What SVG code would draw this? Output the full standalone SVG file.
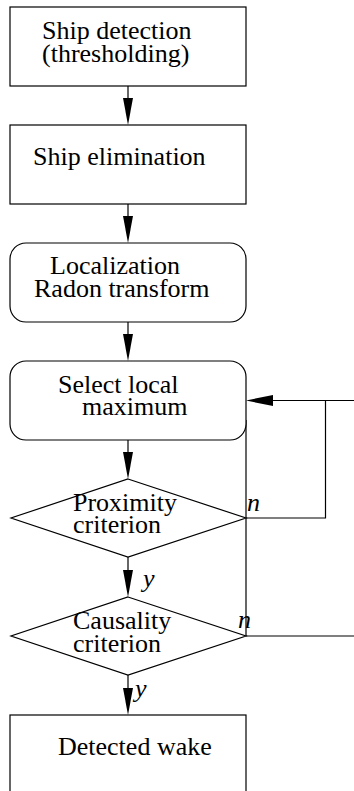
<svg xmlns="http://www.w3.org/2000/svg" width="354" height="791" viewBox="0 0 354 791">
<style>
.n{fill:#fff;stroke:#000;stroke-width:1.2}
.t{font-family:'Liberation Serif','DejaVu Serif',serif;font-size:26px;fill:#000}
.i{font-family:'Liberation Serif','DejaVu Serif',serif;font-size:26px;font-style:italic;fill:#000}
.c{fill:none;stroke:#000;stroke-width:1.2}
.h{fill:#000;stroke:none}
</style>
<rect width="354" height="791" fill="#fff"/>
<g id="connectors">
<line class="c" x1="128" y1="86" x2="128" y2="100"/>
<polygon class="h" points="123,98 133,98 128,125"/>
<line class="c" x1="128" y1="204" x2="128" y2="218"/>
<polygon class="h" points="123,216 133,216 128,243"/>
<line class="c" x1="128" y1="322" x2="128" y2="336"/>
<polygon class="h" points="123,334 133,334 128,361"/>
<line class="c" x1="128" y1="440" x2="128" y2="454"/>
<polygon class="h" points="123,452 133,452 128,479"/>
<line class="c" x1="128" y1="557" x2="128" y2="572"/>
<polygon class="h" points="123,570 133,570 128,597"/>
<line class="c" x1="128" y1="675" x2="128" y2="690"/>
<polygon class="h" points="123,688 133,688 128,715"/>
<polyline class="c" points="246,518 325.5,518 325.5,400.5"/>
<line class="c" x1="270" y1="400.5" x2="354" y2="400.5"/>
<polygon class="h" points="246,400.5 273,395 273,406"/>
<line class="c" x1="246" y1="420" x2="246" y2="636"/>
<line class="c" x1="246" y1="636" x2="354" y2="636"/>
<text class="i" x="247" y="511">n</text>
<text class="i" x="143" y="587">y</text>
<text class="i" x="238" y="628">n</text>
<text class="i" x="135" y="697">y</text>
</g>
<g id="ship-detection">
<rect class="n" x="10" y="7" width="236" height="79"/>
<text class="t" x="42" y="39">Ship detection</text>
<text class="t" x="42" y="62">(thresholding)</text>
</g>
<g id="ship-elimination">
<rect class="n" x="10" y="125" width="236" height="79"/>
<text class="t" x="33" y="165">Ship elimination</text>
</g>
<g id="localization">
<rect class="n" x="10" y="243" width="236" height="79" rx="16" ry="16"/>
<text class="t" x="50" y="274">Localization</text>
<text class="t" x="34" y="297">Radon transform</text>
</g>
<g id="select-local-maximum">
<rect class="n" x="10" y="361" width="236" height="79" rx="16" ry="16"/>
<text class="t" x="58" y="393">Select local</text>
<text class="t" x="82" y="415">maximum</text>
</g>
<g id="proximity">
<polygon class="n" points="128,479 246,518 128,557 11,518"/>
<text class="t" x="73" y="511">Proximity</text>
<text class="t" x="73" y="533">criterion</text>
</g>
<g id="causality">
<polygon class="n" points="128,597 246,636 128,675 11,636"/>
<text class="t" x="73" y="629">Causality</text>
<text class="t" x="73" y="652">criterion</text>
</g>
<g id="detected-wake">
<rect class="n" x="10" y="715" width="236" height="85"/>
<text class="t" x="58" y="755">Detected wake</text>
</g>
</svg>
